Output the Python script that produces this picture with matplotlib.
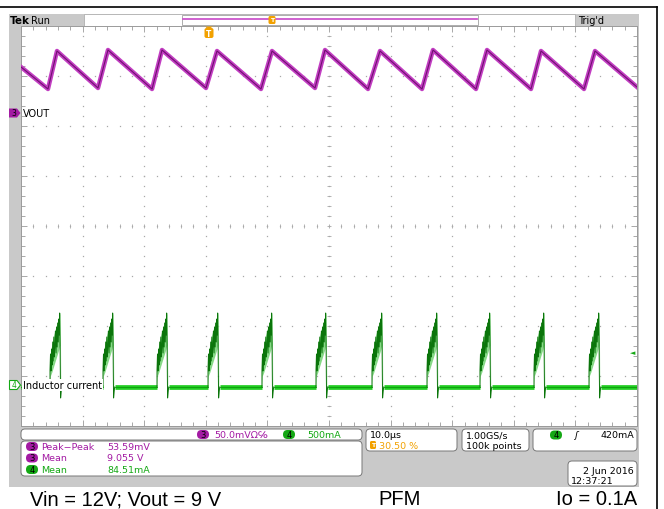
import numpy as np
import matplotlib
matplotlib.use("Agg")
import matplotlib.pyplot as plt
from matplotlib.patches import Rectangle, FancyBboxPatch, Polygon

# ---- data (time in us, VOUT in V, inductor current in mA)
vout_t = [0.0, 4.38, 5.84, 12.5, 14.12, 21.27, 22.89, 30.03, 31.82, 38.96, 40.75,
          47.73, 49.35, 56.33, 58.28, 65.10, 66.88, 73.86, 75.65, 82.79, 84.42,
          91.40, 93.18, 100.0]
vout_v = [9.046, 9.024, 9.062, 9.025, 9.063, 9.024, 9.063, 9.025, 9.062, 9.024, 9.062,
          9.025, 9.063, 9.024, 9.062, 9.024, 9.063, 9.024, 9.063, 9.024, 9.062,
          9.024, 9.062, 9.026]

pulse_start = [4.71, 13.31, 22.08, 30.36, 39.12, 47.89, 56.98, 65.91, 74.51, 83.28, 92.21]
# shape of one current burst (offset from its start)
pulse_dt = [0.0, 0.0, 0.08, 0.16, 0.26, 0.34, 0.44, 0.52, 0.62, 0.7, 0.8, 0.88,
            0.98, 1.06, 1.16, 1.24, 1.34, 1.42, 1.5, 1.56, 1.6, 1.64, 1.68, 1.72,
            1.8, 1.9]
pulse_ma = [0, 170, 330, 160, 380, 220, 450, 260, 500, 300, 420, 560,
            340, 600, 400, 640, 450, 680, 520, 740, 560, 400, 120, -110,
            -50, 0]
env_dt = [-0.05, 0.05, 0.3, 0.6, 0.9, 1.2, 1.45, 1.58, 1.64, 1.7, 1.74]
env_lo = [0, 110, 150, 210, 270, 330, 380, 420, 250, -40, -100]
env_hi = [200, 340, 430, 520, 590, 650, 710, 750, 720, 420, 60]

meas_names = ["Peak\u2212Peak", "Mean", "Mean"]
meas_vals = ["53.59mV", "9.055 V", "84.51mA"]
meas_ch = ["3", "3", "4"]

PURPLE = "#c23ec2"
PURPLE_D = "#701070"
GREEN = "#22cc22"
GREEN_D = "#0b750b"
GREEN_L = "#86d986"
ORANGE = "#f2a100"
GRAY = "#c9c9c9"
chcol = {"3": "#a31aa3", "4": "#14a814"}

fig = plt.figure(figsize=(6.64, 5.10), dpi=100)
plt.rcParams['font.family'] = ['DejaVu Sans']

# background in pixel coords
bg = fig.add_axes([0, 0, 1, 1], zorder=0)
bg.set_xlim(0, 664)
bg.set_ylim(510, 0)
bg.axis('off')
bg.plot([0, 657], [8, 8], color='black', lw=1.2)
bg.plot([657, 657], [8, 510], color='black', lw=1.2)
bg.add_patch(Rectangle((9, 15), 630, 473, color=GRAY, lw=0))
bg.add_patch(Rectangle((84, 15), 491, 12, facecolor='white', edgecolor='#b0b0b0', lw=0.6))
bg.add_patch(Rectangle((182, 15.5), 296, 10, facecolor='white', edgecolor='#a0a0a0', lw=0.6))
bg.plot([183, 477], [20, 20], color='#cc55cc', lw=1.3)
bg.text(10, 21, "Tek", fontsize=7.5, fontweight='bold', va='center')
bg.text(31, 21, "Run", fontsize=7, va='center')
bg.text(578, 21, "Trig'd", fontsize=7, va='center')

# caption under the screen
cap = dict(fontsize=14.5, family='Liberation Sans', va='bottom')
bg.text(30, 509.5, "Vin = 12V; Vout = 9 V", **cap)
bg.text(378, 509.5, "PFM", **cap)
bg.text(637, 509.5, "Io = 0.1A", ha='right', **cap)

# bottom status boxes
def box(x0, y0, x1, y1):
    bg.add_patch(FancyBboxPatch((x0, y0), x1 - x0, y1 - y0,
                                boxstyle="round,pad=0,rounding_size=4",
                                facecolor='white', edgecolor='#777777', lw=0.7))

def badge(x, y, ch):
    bg.add_patch(FancyBboxPatch((x - 6, y - 4.5), 12, 9,
                                boxstyle="round,pad=0,rounding_size=4.5",
                                fc=chcol[ch], ec='none'))
    bg.text(x, y, ch, fontsize=6, ha='center', va='center', color='black')

box(21, 430, 362, 441)
box(21, 442, 362, 477)
box(366, 430, 457, 452)
box(462, 430, 529, 452)
box(533, 430, 637, 452)
box(568, 462, 637, 487)

fs = 6.8
badge(203, 435.5, "3")
bg.text(214, 436, "50.0mV\u03a9\u2105", fontsize=fs, color=chcol["3"], va='center')
badge(289, 435.5, "4")
bg.text(307, 436, "500mA", fontsize=fs, color=chcol["4"], va='center')
for k, (nm, vl, ch) in enumerate(zip(meas_names, meas_vals, meas_ch)):
    yy = 447.5 + k * 11.5
    badge(32, yy, ch)
    bg.text(41, yy, nm, fontsize=fs, color=chcol[ch], va='center')
    bg.text(107, yy, vl, fontsize=fs, color=chcol[ch], va='center')
bg.text(370, 436, "10.0\u00b5s", fontsize=fs, va='center')
bg.add_patch(FancyBboxPatch((370, 442), 6, 8, boxstyle="round,pad=0,rounding_size=1.5",
                            fc=ORANGE, ec='none'))
bg.text(373, 446, "T", fontsize=4.5, color='white', ha='center', va='center', fontweight='bold')
bg.text(379, 446.5, "30.50 %", fontsize=fs, color=ORANGE, va='center')
bg.text(466, 436, "1.00GS/s", fontsize=fs, va='center')
bg.text(466, 446.5, "100k points", fontsize=fs, va='center')
badge(556, 436, "4")
bg.text(574, 436, "\u0283", fontsize=fs, va='center', fontstyle='italic')
bg.text(634, 436, "420mA", fontsize=fs, va='center', ha='right')
bg.text(634, 471.5, "2 Jun 2016", fontsize=fs, va='center', ha='right')
bg.text(571, 481.5, "12:37:21", fontsize=fs, va='center')

# graticule
pos = [21 / 664, 83 / 510, 616 / 664, 400 / 510]
gx = fig.add_axes(pos, zorder=1)
gx.set_xlim(0, 100)
gx.set_ylim(-4, 4)
gx.set_facecolor('white')
for s in gx.spines.values():
    s.set_color('#9a9a9a')
    s.set_linewidth(0.7)
gx.set_xticks(np.arange(0, 100.1, 10))
gx.set_xticks(np.arange(0, 100.1, 2), minor=True)
gx.set_yticks(np.arange(-4, 4.1, 1))
gx.set_yticks(np.arange(-4, 4.1, 0.2), minor=True)
gx.tick_params(which='both', direction='in', top=True, right=True,
               labelbottom=False, labelleft=False, color='#9a9a9a', width=0.6)
gx.tick_params(which='major', length=4)
gx.tick_params(which='minor', length=3)
dot_y = np.arange(-4, 4.01, 0.2)
dot_x = np.arange(0, 100.01, 2)
for xv in range(10, 100, 10):
    gx.plot(np.full_like(dot_y, xv), dot_y, ls='none', marker='s', ms=0.9,
            color='#a8a8a8', mew=0)
for yv in range(-3, 4):
    gx.plot(dot_x, np.full_like(dot_x, yv), ls='none', marker='s', ms=0.9,
            color='#a8a8a8', mew=0)
gx.plot(np.full_like(dot_y, 50), dot_y, ls='none', marker='_', ms=3.5, color='#a8a8a8', mew=0.6)
gx.plot(dot_x, np.zeros_like(dot_x), ls='none', marker='|', ms=3.5, color='#a8a8a8', mew=0.6)

# channel 3 : VOUT, 50 mV/div, 9.0 V at +2.26 div
ax3 = fig.add_axes(pos, zorder=3)
c3 = 9.0 - 2.26 * 0.05
ax3.set_xlim(0, 100)
ax3.set_ylim(c3 - 0.2, c3 + 0.2)
ax3.axis('off')
ax3.plot(vout_t, vout_v, color=PURPLE, lw=3.2)
ax3.plot(vout_t, vout_v, color=PURPLE_D, lw=0.8)

# channel 4 : inductor current, 500 mA/div, 0 at -3.22 div
ax4 = fig.add_axes(pos, zorder=4)
c4 = 3.22 * 500
ax4.set_xlim(0, 100)
ax4.set_ylim(c4 - 2000, c4 + 2000)
ax4.axis('off')
gap_start = [0.0] + [t + pulse_dt[-1] for t in pulse_start]
gap_end = pulse_start + [100.0]
for a, b in zip(gap_start, gap_end):
    ax4.plot([a, b], [0, 0], color=GREEN, lw=3.4, solid_capstyle='butt')
    ax4.plot([a, b], [0, 0], color='#0c9a0c', lw=0.6)
for t0 in pulse_start:
    ex = [t0 + d for d in env_dt]
    ax4.fill_between(ex, env_lo, env_hi, color=GREEN_L, lw=0)
    px = [t0 + d for d in pulse_dt]
    ax4.plot(px, pulse_ma, color=GREEN_D, lw=0.7)

# overlay labels / markers
top = fig.add_axes([0, 0, 1, 1], zorder=10)
top.set_xlim(0, 664)
top.set_ylim(510, 0)
top.axis('off')
top.add_patch(Polygon([[9, 109.5], [17, 109.5], [20.5, 114], [17, 118.5], [9, 118.5]],
                      closed=True, fc=chcol["3"], ec='none'))
top.text(13.5, 114, "3", fontsize=5.5, ha='center', va='center')
top.text(23, 114, "VOUT", fontsize=7, va='center')
top.add_patch(Polygon([[9.5, 381.5], [17, 381.5], [20.5, 386], [17, 390.5], [9.5, 390.5]],
                      closed=True, fc='white', ec=chcol["4"], lw=0.8))
top.text(14, 386, "4", fontsize=5.5, ha='center', va='center', color=chcol["4"])
top.text(23, 386, "Inductor current", fontsize=7, va='center',
         bbox=dict(boxstyle='square,pad=0.1', fc='white', ec='none'))
top.text(633, 353, "\u25c4", fontsize=5, color=chcol["4"], ha='center', va='center')
top.add_patch(FancyBboxPatch((204.5, 29), 9, 10, boxstyle="round,pad=0,rounding_size=2",
                             fc=ORANGE, ec='none'))
top.add_patch(Polygon([[205, 27.5], [213, 27.5], [209, 30]], closed=True, fc=ORANGE, ec='none'))
top.text(209, 34.5, "T", fontsize=5.5, color='white', ha='center', va='center', fontweight='bold')
top.add_patch(FancyBboxPatch((268.5, 17), 7, 8, boxstyle="round,pad=0,rounding_size=1.5",
                             fc=ORANGE, ec='none'))
top.text(272, 21, "T", fontsize=4.5, color='white', ha='center', va='center', fontweight='bold')

fig.savefig("out.png", dpi=100)
